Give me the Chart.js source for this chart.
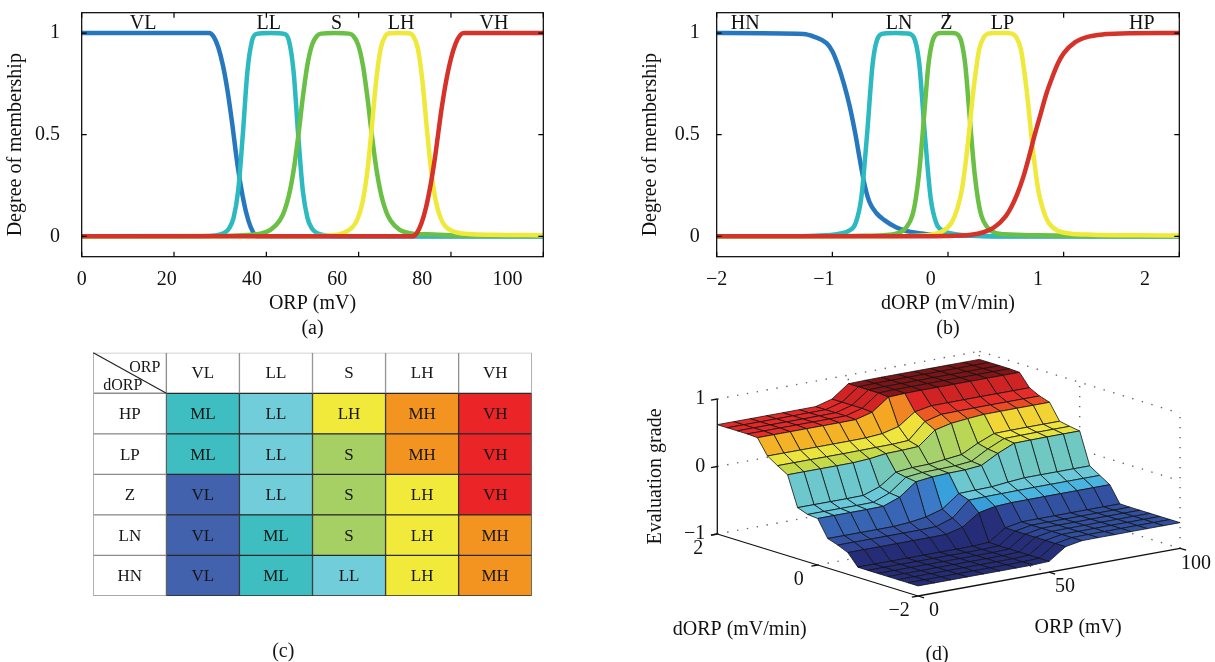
<!DOCTYPE html>
<html>
<head>
<meta charset="utf-8">
<script src="https://cdn.jsdelivr.net/npm/chart.js@4.4.1/dist/chart.umd.min.js"></script>
<style>
  html, body { margin: 0; padding: 0; background: #fff; }
  #page { position: relative; width: 1215px; height: 662px; overflow: hidden; }
  canvas { position: absolute; }
  #ca { left: 0; top: 0; }
  #cb { left: 635px; top: 0; }
  #cc { left: 80px; top: 340px; }
  #cd { left: 600px; top: 340px; }
</style>
</head>
<body>
<div id="page">
  <canvas id="ca" width="570" height="341"></canvas>
  <canvas id="cb" width="580" height="341"></canvas>
  <canvas id="cc" width="470" height="322"></canvas>
  <canvas id="cd" width="615" height="322"></canvas>
</div>
<script>
// ---- (a) ORP membership functions ----
const orpTicks = [0, 20, 40, 60, 80, 100];
const orpNames = ['VL', 'LL', 'S', 'LH', 'VH'];
const orpNameX = [13.3, 40.5, 55.2, 69.2, 89.3];
const vlX = [0, 27.6, 28.6, 29.6, 30.6, 31.6, 32.6, 33.6, 34.6, 35.6, 36.6, 37.6, 38.2, 100];
const vlY = [1, 1, 0.982, 0.929, 0.84, 0.715, 0.555, 0.377, 0.231, 0.12, 0.046, 0.006, 0, 0];
const llX = [0, 25.9, 28.9, 30.9, 31.9, 32.9, 33.9, 34.9, 35.9, 36.9, 37.9, 40.9, 43.9, 44.9, 45.9, 46.9, 47.9, 48.9, 49.9, 50.9, 52.9, 55.9, 100];
const llY = [0, 0.001, 0.004, 0.017, 0.038, 0.091, 0.225, 0.5, 0.811, 0.962, 0.996, 1, 0.996, 0.962, 0.811, 0.5, 0.225, 0.091, 0.038, 0.017, 0.004, 0.001, 0];
const sX = [0, 29.9, 34.9, 38.9, 40.9, 42.9, 43.9, 44.9, 45.9, 46.95, 47.9, 48.9, 49.9, 50.9, 51.9, 54.9, 57.9, 58.9, 59.9, 60.9, 61.9, 62.85, 63.9, 64.9, 65.9, 66.9, 68.9, 70.9, 74.9, 79.9, 89.9, 100];
const sY = [0, 0.002, 0.006, 0.014, 0.032, 0.078, 0.125, 0.202, 0.323, 0.5, 0.683, 0.844, 0.942, 0.984, 0.997, 1, 0.997, 0.984, 0.942, 0.844, 0.683, 0.5, 0.323, 0.202, 0.125, 0.078, 0.032, 0.016, 0.01, 0.006, 0.003, 0.002];
const lhX = [0, 48.8, 53.8, 56.8, 58.8, 59.8, 60.8, 61.8, 62.7, 63.8, 64.8, 65.8, 66.8, 68.8, 70.8, 71.8, 72.8, 73.8, 74.9, 75.8, 76.8, 77.8, 78.8, 80.8, 83.8, 88.8, 100];
const lhY = [0, 0.001, 0.004, 0.017, 0.049, 0.088, 0.164, 0.304, 0.5, 0.767, 0.926, 0.986, 0.999, 1, 0.999, 0.986, 0.926, 0.767, 0.5, 0.304, 0.164, 0.088, 0.049, 0.022, 0.012, 0.008, 0.006];
const vhX = [0, 71.6, 72.6, 73.6, 74.6, 75.6, 76.6, 77.2, 78, 79, 80, 81, 82, 82.8, 100];
const vhY = [0, 0, 0.016, 0.064, 0.143, 0.255, 0.398, 0.5, 0.633, 0.77, 0.875, 0.948, 0.99, 1, 1];

// ---- (b) dORP membership functions ----
const dorpTicks = [-2, -1, 0, 1, 2];
const dorpNames = ['HN', 'LN', 'Z', 'LP', 'HP'];
const dorpNameX = [-1.754, -0.423, -0.014, 0.47, 1.676];
const hnX = [-2, -1.25, -1.15, -1.05, -1.0, -0.95, -0.9, -0.85, -0.8, -0.76, -0.72, -0.68, -0.62, -0.55, -0.45, -0.35, -0.2, 0, 0.4, 2];
const hnY = [1, 0.995, 0.98, 0.95, 0.91, 0.84, 0.75, 0.64, 0.5, 0.37, 0.25, 0.17, 0.115, 0.08, 0.045, 0.025, 0.012, 0.005, 0.001, 0];
const lnX = [-2, -1.45, -1.15, -0.95, -0.85, -0.8, -0.75, -0.7, -0.65, -0.6, -0.55, -0.45, -0.35, -0.3, -0.25, -0.2, -0.15, -0.1, -0.05, 0.05, 0.25, 0.55, 2];
const lnY = [0, 0, 0.003, 0.012, 0.03, 0.063, 0.189, 0.5, 0.856, 0.983, 0.998, 1, 0.998, 0.983, 0.856, 0.5, 0.189, 0.063, 0.03, 0.012, 0.003, 0, 0];
const zX = [-2, -1.2, -0.81, -0.51, -0.41, -0.36, -0.31, -0.28, -0.25, -0.22, -0.2, -0.17, -0.14, -0.11, -0.06, 0.04, 0.09, 0.12, 0.15, 0.18, 0.2, 0.23, 0.26, 0.29, 0.34, 0.39, 0.49, 0.79, 1.19, 1.6, 2];
const zY = [0, 0, 0.002, 0.008, 0.021, 0.045, 0.1, 0.18, 0.31, 0.5, 0.64, 0.84, 0.947, 0.989, 1, 1, 0.989, 0.947, 0.84, 0.64, 0.5, 0.31, 0.18, 0.1, 0.045, 0.021, 0.01, 0.005, 0.002, 0, 0];
const lpX = [-2, -0.8, -0.35, -0.15, -0.05, 0.03, 0.08, 0.12, 0.15, 0.18, 0.21, 0.24, 0.27, 0.31, 0.35, 0.4, 0.5, 0.55, 0.59, 0.63, 0.66, 0.69, 0.72, 0.75, 0.78, 0.82, 0.87, 0.95, 1.05, 1.25, 1.65, 2];
const lpY = [0, 0, 0.002, 0.0085, 0.024, 0.067, 0.135, 0.23, 0.35, 0.5, 0.67, 0.81, 0.92, 0.98, 0.997, 1, 1, 0.997, 0.98, 0.92, 0.81, 0.67, 0.5, 0.35, 0.23, 0.135, 0.067, 0.028, 0.014, 0.008, 0.005, 0.004];
const hpX = [-2, -1, -0.5, 0, 0.2, 0.3, 0.4, 0.5, 0.55, 0.6, 0.65, 0.7, 0.75, 0.8, 0.85, 0.9, 0.95, 1.0, 1.1, 1.2, 1.35, 1.5, 2];
const hpY = [0, 0.0002, 0.0005, 0.002, 0.008, 0.019, 0.045, 0.1, 0.147, 0.21, 0.29, 0.39, 0.5, 0.6, 0.7, 0.78, 0.85, 0.9, 0.955, 0.98, 0.994, 0.998, 1];

// ---- (c) rule table ----
const orpCols = ['VL', 'LL', 'S', 'LH', 'VH'];
const dorpRows = ['HP', 'LP', 'Z', 'LN', 'HN'];
const ruleHP = ['ML', 'LL', 'LH', 'MH', 'VH'];
const ruleLP = ['ML', 'LL', 'S', 'MH', 'VH'];
const ruleZ = ['VL', 'LL', 'S', 'LH', 'VH'];
const ruleLN = ['VL', 'ML', 'S', 'LH', 'MH'];
const ruleHN = ['VL', 'ML', 'LL', 'LH', 'MH'];
const gradeColors = { VL: '#4262ad', ML: '#3fbec1', LL: '#72cddb', S: '#a6cf64', LH: '#f1ea3a', MH: '#f39420', VH: '#ea2427' };

// ---- (d) evaluation surface ----
const surfDorp = [-2, -1.8, -1.6, -1.4, -1.2, -1, -0.8, -0.6, -0.4, -0.2, 0, 0.2, 0.4, 0.6, 0.8, 1, 1.2, 1.4, 1.6, 1.8, 2];
const surfOrp = [0, 6.25, 12.5, 18.75, 25, 31.25, 37.5, 43.75, 50, 56.25, 62.5, 68.75, 75, 81.25, 87.5, 93.75, 100];
const surfGrade = [
  [-0.85, -0.85, -0.85, -0.85, -0.85, -0.85, -0.848, -0.678, -0.613, -0.562, -0.311, -0.297, -0.242, 0.199, 0.288, 0.385, 0.611, 0.62, 0.62, 0.62, 0.62],
  [-0.85, -0.85, -0.85, -0.85, -0.85, -0.85, -0.848, -0.678, -0.613, -0.562, -0.311, -0.297, -0.242, 0.199, 0.288, 0.385, 0.611, 0.62, 0.62, 0.62, 0.62],
  [-0.85, -0.85, -0.85, -0.85, -0.85, -0.85, -0.848, -0.678, -0.613, -0.562, -0.311, -0.297, -0.242, 0.199, 0.288, 0.385, 0.611, 0.62, 0.62, 0.62, 0.62],
  [-0.85, -0.85, -0.85, -0.85, -0.85, -0.85, -0.848, -0.678, -0.613, -0.562, -0.311, -0.297, -0.242, 0.199, 0.288, 0.385, 0.611, 0.62, 0.62, 0.62, 0.62],
  [-0.85, -0.85, -0.85, -0.85, -0.85, -0.85, -0.848, -0.678, -0.613, -0.561, -0.308, -0.294, -0.239, 0.2, 0.288, 0.385, 0.611, 0.62, 0.62, 0.62, 0.62],
  [-0.85, -0.85, -0.85, -0.85, -0.85, -0.85, -0.848, -0.677, -0.611, -0.544, -0.217, -0.2, -0.154, 0.215, 0.29, 0.386, 0.611, 0.621, 0.621, 0.621, 0.621],
  [-0.85, -0.85, -0.85, -0.85, -0.85, -0.85, -0.848, -0.674, -0.605, -0.508, -0.033, -0.011, 0.018, 0.247, 0.293, 0.388, 0.613, 0.622, 0.622, 0.622, 0.622],
  [-0.85, -0.85, -0.85, -0.85, -0.85, -0.85, -0.848, -0.614, -0.524, -0.436, -0.005, 0.015, 0.042, 0.253, 0.295, 0.407, 0.678, 0.689, 0.689, 0.689, 0.689],
  [-0.84, -0.84, -0.84, -0.84, -0.84, -0.84, -0.835, -0.442, -0.301, -0.249, 0.007, 0.019, 0.047, 0.265, 0.308, 0.468, 0.858, 0.873, 0.873, 0.873, 0.873],
  [-0.667, -0.667, -0.667, -0.667, -0.667, -0.667, -0.664, -0.393, -0.295, -0.243, 0.011, 0.026, 0.074, 0.464, 0.544, 0.642, 0.869, 0.878, 0.878, 0.878, 0.878],
  [-0.622, -0.622, -0.622, -0.622, -0.622, -0.622, -0.619, -0.38, -0.292, -0.238, 0.033, 0.049, 0.101, 0.52, 0.606, 0.687, 0.872, 0.88, 0.88, 0.88, 0.88],
  [-0.621, -0.621, -0.621, -0.621, -0.621, -0.621, -0.618, -0.38, -0.29, -0.213, 0.167, 0.187, 0.226, 0.545, 0.61, 0.688, 0.872, 0.88, 0.88, 0.88, 0.88],
  [-0.621, -0.621, -0.621, -0.621, -0.621, -0.621, -0.618, -0.379, -0.287, -0.193, 0.274, 0.297, 0.326, 0.564, 0.612, 0.689, 0.872, 0.88, 0.88, 0.88, 0.88],
  [-0.62, -0.62, -0.62, -0.62, -0.62, -0.62, -0.617, -0.379, -0.287, -0.192, 0.277, 0.3, 0.329, 0.565, 0.614, 0.69, 0.872, 0.88, 0.88, 0.88, 0.88],
  [-0.62, -0.62, -0.62, -0.62, -0.62, -0.62, -0.617, -0.379, -0.287, -0.192, 0.279, 0.302, 0.331, 0.566, 0.614, 0.69, 0.872, 0.88, 0.88, 0.88, 0.88],
  [-0.62, -0.62, -0.62, -0.62, -0.62, -0.62, -0.617, -0.379, -0.287, -0.192, 0.279, 0.302, 0.331, 0.566, 0.614, 0.69, 0.872, 0.88, 0.88, 0.88, 0.88],
  [-0.62, -0.62, -0.62, -0.62, -0.62, -0.62, -0.617, -0.379, -0.287, -0.192, 0.279, 0.302, 0.331, 0.566, 0.614, 0.69, 0.872, 0.88, 0.88, 0.88, 0.88]
];
const gradeTicks = [-1, 0, 1];
const surfDorpTicks = [-2, 0, 2];
const surfOrpTicks = [0, 50, 100];
// colour map (muted jet) used for the facets
const cmapZ = [-0.85, -0.72, -0.62, -0.52, -0.42, -0.3, -0.15, 0.0, 0.1, 0.22, 0.3, 0.4, 0.52, 0.62, 0.75, 0.88];
const cmapRGB = [[38, 45, 120], [44, 60, 142], [50, 80, 160], [60, 115, 195], [55, 170, 225], [105, 200, 218], [115, 200, 185], [150, 205, 130], [185, 214, 85], [200, 218, 70], [240, 230, 60], [245, 170, 35], [240, 105, 35], [228, 40, 40], [190, 30, 32], [125, 20, 22]];

Chart.defaults.font.family = "'Liberation Serif', 'Times New Roman', serif";
Chart.defaults.font.size = 20;
Chart.defaults.color = '#111';

const mfColors = ['#2677bd', '#2cb9bf', '#6abf45', '#eee93a', '#d5322a'];
const serif = "'Liberation Serif', 'Times New Roman', serif";

function toPoints(xs, ys) {
  return xs.map((x, i) => ({ x: x, y: ys[i] }));
}

// box, inward tick marks and MF names
const framePlugin = {
  id: 'frame',
  afterDatasetsDraw(chart, args, opts) {
    const ctx = chart.ctx;
    const a = chart.chartArea;
    const sx = chart.scales.x, sy = chart.scales.y;
    ctx.save();
    ctx.strokeStyle = '#000';
    ctx.lineWidth = 1.2;
    ctx.strokeRect(a.left, a.top, a.right - a.left, a.bottom - a.top);
    ctx.beginPath();
    opts.xTicks.forEach(v => {
      const px = sx.getPixelForValue(v);
      ctx.moveTo(px, a.bottom); ctx.lineTo(px, a.bottom - 5);
      ctx.moveTo(px, a.top); ctx.lineTo(px, a.top + 5);
    });
    opts.yTicks.forEach(v => {
      const py = sy.getPixelForValue(v);
      ctx.moveTo(a.left, py); ctx.lineTo(a.left + 5, py);
      ctx.moveTo(a.right, py); ctx.lineTo(a.right - 5, py);
    });
    ctx.stroke();
    ctx.fillStyle = '#111';
    ctx.font = '20px ' + serif;
    ctx.textAlign = 'center';
    ctx.textBaseline = 'middle';
    opts.names.forEach((n, i) => {
      ctx.fillText(n, sx.getPixelForValue(opts.nameX[i]), sy.getPixelForValue(1.047));
    });
    ctx.restore();
  }
};

function membershipChart(id, cfg) {
  const datasets = cfg.curves.map((c, i) => ({
    label: cfg.names[i],
    data: toPoints(c[0], c[1]),
    borderColor: mfColors[i],
    borderWidth: 4.5,
    pointRadius: 0,
    fill: false,
    cubicInterpolationMode: 'monotone',
    order: cfg.curves.length - 1 - i
  }));
  return new Chart(document.getElementById(id), {
    type: 'line',
    data: { datasets: datasets },
    options: {
      responsive: false,
      animation: false,
      events: [],
      layout: { padding: { top: 12.7, right: cfg.padRight, left: 0, bottom: 0 } },
      scales: {
        x: { type: 'linear', min: cfg.xMin, max: cfg.xMax, display: false },
        xl: {
          type: 'linear', position: 'bottom', min: cfg.xMin, max: cfg.labelMax,
          grid: { display: false }, border: { display: false },
          ticks: { stepSize: cfg.step, includeBounds: false, padding: 3, callback: v => String(v).replace('-', '\u2212') },
          title: { display: true, text: cfg.title, font: { size: 20, lineHeight: 1.25 }, padding: 0 },
          afterFit: s => { s.height = 84.3; s.paddingLeft = 0; s.paddingRight = 0; }
        },
        y: {
          type: 'linear', min: -0.1, max: 1.1,
          grid: { display: false }, border: { display: false },
          ticks: { stepSize: 0.5, includeBounds: false, padding: cfg.yPad, callback: v => String(v) },
          title: { display: true, text: 'Degree of membership' + '\u00a0'.repeat(4), padding: { top: 4, bottom: 0 } },
          afterFit: s => { s.width = 81.7; s.paddingTop = 0; s.paddingBottom = 0; }
        }
      },
      plugins: {
        legend: { display: false },
        tooltip: { enabled: false },
        frame: { xTicks: cfg.ticks, yTicks: [0, 0.5, 1], names: cfg.names, nameX: cfg.nameX }
      }
    },
    plugins: [framePlugin]
  });
}

membershipChart('ca', {
  curves: [[vlX, vlY], [llX, llY], [sX, sY], [lhX, lhY], [vhX, vhY]],
  names: orpNames, nameX: orpNameX,
  xMin: 0, xMax: 100, labelMax: 108.4, step: 20, ticks: orpTicks,
  padRight: 26.7, yPad: 13.7,
  title: ['ORP (mV)', '(a)']
});

membershipChart('cb', {
  curves: [[hnX, hnY], [lnX, lnY], [zX, zY], [lpX, lpY], [hpX, hpY]],
  names: dorpNames, nameX: dorpNameX,
  xMin: -2, xMax: 2, labelMax: 2.32, step: 1, ticks: dorpTicks,
  padRight: 35.7, yPad: 9,
  title: ['dORP (mV/min)', '(b)']
});

// ---- (c) table as floating horizontal bars ----
const ruleTable = [ruleHP, ruleLP, ruleZ, ruleLN, ruleHN];
const tableRowLabels = ['', ...dorpRows];
const tableSets = [];
for (let c = 0; c < 6; c++) {
  const fills = [], edges = [], texts = [];
  for (let r = 0; r < 6; r++) {
    let txt = '';
    let fill = '#ffffff';
    let edge = '#8c8c8c';
    if (r === 0 && c > 0) txt = orpCols[c - 1];
    else if (c === 0 && r > 0) txt = dorpRows[r - 1];
    else if (r > 0) {
      txt = ruleTable[r - 1][c - 1];
      fill = gradeColors[txt];
      edge = '#2a2a2a';
    }
    fills.push(fill); edges.push(edge); texts.push(txt);
  }
  tableSets.push({
    data: tableRowLabels.map(() => [c, c + 1]),
    backgroundColor: fills,
    borderColor: edges,
    borderWidth: 1,
    borderSkipped: false,
    grouped: false,
    categoryPercentage: 1,
    barPercentage: 1,
    cellText: texts
  });
}

const tablePlugin = {
  id: 'tableText',
  afterDatasetsDraw(chart) {
    const ctx = chart.ctx;
    ctx.save();
    ctx.fillStyle = '#161616';
    ctx.textBaseline = 'middle';
    chart.data.datasets.forEach((ds, i) => {
      chart.getDatasetMeta(i).data.forEach((bar, j) => {
        const p = bar.getProps(['x', 'y', 'base', 'height'], true);
        const left = Math.min(p.x, p.base), right = Math.max(p.x, p.base);
        if (i === 0 && j === 0) {
          // header corner with diagonal
          const top = p.y - p.height / 2, bottom = p.y + p.height / 2;
          ctx.strokeStyle = '#222';
          ctx.lineWidth = 1.2;
          ctx.beginPath();
          ctx.moveTo(left, top); ctx.lineTo(right, bottom);
          ctx.stroke();
          ctx.font = '16px ' + serif;
          ctx.textAlign = 'right';
          ctx.fillText('ORP', right - 6, top + 15);
          ctx.textAlign = 'left';
          ctx.fillText('dORP', left + 10, bottom - 7);
          return;
        }
        ctx.font = '17px ' + serif;
        ctx.textAlign = 'center';
        ctx.fillText(ds.cellText[j], (left + right) / 2, p.y + 1);
      });
    });
    ctx.font = '20px ' + serif;
    ctx.textAlign = 'center';
    ctx.fillText('(c)', chart.scales.x.getPixelForValue(2.6), chart.chartArea.bottom + 56);
    ctx.restore();
  }
};

new Chart(document.getElementById('cc'), {
  type: 'bar',
  data: { labels: tableRowLabels, datasets: tableSets },
  options: {
    indexAxis: 'y',
    responsive: false,
    animation: false,
    events: [],
    layout: { padding: { left: 13.3, right: 18.3, top: 12.7, bottom: 66 } },
    scales: {
      x: { type: 'linear', min: 0, max: 6, display: false },
      y: { type: 'category', display: false }
    },
    plugins: { legend: { display: false }, tooltip: { enabled: false } }
  },
  plugins: [tablePlugin]
});

// ---- (d) 3-D surface drawn through a screen-like linear scale pair ----
function gradeColor(z) {
  let k = 0;
  while (k < cmapZ.length - 2 && z > cmapZ[k + 1]) k++;
  let t = (z - cmapZ[k]) / (cmapZ[k + 1] - cmapZ[k]);
  t = Math.max(0, Math.min(1, t));
  const a = cmapRGB[k], b = cmapRGB[k + 1];
  return 'rgb(' + [0, 1, 2].map(m => Math.round(a[m] + (b[m] - a[m]) * t)).join(',') + ')';
}

const surfacePlugin = {
  id: 'surface3d',
  afterDatasetsDraw(chart) {
    const ctx = chart.ctx;
    const xs = chart.scales.x, ys = chart.scales.y;
    // orthographic view: dORP runs to the front-left, ORP to the right
    function pt(p, q, z) {
      const u = 117.3 + (2 - p) * 50.2 + q * 2.62;
      const v = 194 + (2 - p) * 15.5 - q * 0.477 - (z + 1) * 67.5;
      return [xs.getPixelForValue(u), ys.getPixelForValue(v)];
    }
    function line(a, b) {
      ctx.beginPath();
      ctx.moveTo(a[0], a[1]);
      ctx.lineTo(b[0], b[1]);
      ctx.stroke();
    }
    ctx.save();

    // dotted grid on the back walls and floor
    ctx.setLineDash([1.4, 8.6]);
    ctx.strokeStyle = '#666';
    ctx.lineWidth = 1.4;
    gradeTicks.forEach(z => {
      line(pt(2, 0, z), pt(2, 100, z));
      line(pt(2, 100, z), pt(-2, 100, z));
    });
    line(pt(2, 50, -1), pt(2, 50, 1));
    line(pt(2, 100, -1), pt(2, 100, 1));
    line(pt(0, 100, -1), pt(0, 100, 1));
    line(pt(-2, 100, -1), pt(-2, 100, 1));
    line(pt(0, 0, -1), pt(0, 100, -1));
    line(pt(2, 50, -1), pt(-2, 50, -1));
    ctx.setLineDash([]);

    // facets, far ones first
    const cells = [];
    for (let i = 0; i < surfOrp.length - 1; i++) {
      for (let j = 0; j < surfDorp.length - 1; j++) {
        const pc = (surfDorp[j] + surfDorp[j + 1]) / 2;
        const qc = (surfOrp[i] + surfOrp[i + 1]) / 2;
        cells.push({ i: i, j: j, depth: 15.5 * pc + 0.477 * qc });
      }
    }
    cells.sort((a, b) => b.depth - a.depth);
    ctx.strokeStyle = '#111';
    ctx.lineWidth = 0.8;
    ctx.lineJoin = 'round';
    cells.forEach(c => {
      const i = c.i, j = c.j;
      const corners = [
        pt(surfDorp[j], surfOrp[i], surfGrade[i][j]),
        pt(surfDorp[j + 1], surfOrp[i], surfGrade[i][j + 1]),
        pt(surfDorp[j + 1], surfOrp[i + 1], surfGrade[i + 1][j + 1]),
        pt(surfDorp[j], surfOrp[i + 1], surfGrade[i + 1][j])
      ];
      ctx.beginPath();
      ctx.moveTo(corners[0][0], corners[0][1]);
      for (let k = 1; k < 4; k++) ctx.lineTo(corners[k][0], corners[k][1]);
      ctx.closePath();
      ctx.fillStyle = gradeColor(surfGrade[i][j]);
      ctx.fill();
      ctx.stroke();
    });

    // solid axes and tick marks
    ctx.strokeStyle = '#111';
    ctx.lineWidth = 1.3;
    line(pt(2, 0, -1), pt(-2, 0, -1));
    line(pt(-2, 0, -1), pt(-2, 100, -1));
    line(pt(2, 0, -1), pt(2, 0, 1));
    gradeTicks.forEach(z => line(pt(2, 0, z), pt(2, -2.4, z)));
    surfDorpTicks.forEach(p => line(pt(p, 0, -1), pt(p, -2.4, -1)));
    surfOrpTicks.forEach(q => line(pt(-2, q, -1), pt(-2.12, q, -1)));

    // tick labels
    ctx.fillStyle = '#111';
    ctx.font = '20px ' + serif;
    ctx.textBaseline = 'middle';
    ctx.textAlign = 'right';
    gradeTicks.forEach(z => {
      const a = pt(2, 0, z);
      ctx.fillText(String(z).replace('-', '\u2212'), a[0] - 12, a[1]);
    });
    ctx.textAlign = 'center';
    surfDorpTicks.forEach(p => {
      const a = pt(p, 0, -1);
      ctx.fillText(String(p).replace('-', '\u2212'), a[0] - 19, a[1] + 15);
    });
    surfOrpTicks.forEach(q => {
      const a = pt(-2, q, -1);
      ctx.fillText(String(q), a[0] + 16, a[1] + 15);
    });

    // axis titles
    let a = pt(2, 0, 0);
    ctx.save();
    ctx.translate(a[0] - 62, a[1] + 10);
    ctx.rotate(-Math.PI / 2);
    ctx.fillText('Evaluation grade', 0, 0);
    ctx.restore();
    a = pt(0, 0, -1);
    ctx.fillText('dORP (mV/min)', a[0] - 78, a[1] + 65);
    a = pt(-2, 50, -1);
    ctx.fillText('ORP (mV)', a[0] + 29, a[1] + 56);
    a = pt(-2, 0, -1);
    ctx.fillText('(d)', a[0] + 19, a[1] + 59);
    ctx.restore();
  }
};

new Chart(document.getElementById('cd'), {
  type: 'scatter',
  data: { datasets: [{ data: [], pointRadius: 0 }] },
  options: {
    responsive: false,
    animation: false,
    events: [],
    layout: { padding: 0 },
    scales: {
      x: { type: 'linear', min: 0, max: 615, display: false },
      y: { type: 'linear', min: 0, max: 322, reverse: true, display: false }
    },
    plugins: { legend: { display: false }, tooltip: { enabled: false } }
  },
  plugins: [surfacePlugin]
});
</script>
</body>
</html>
